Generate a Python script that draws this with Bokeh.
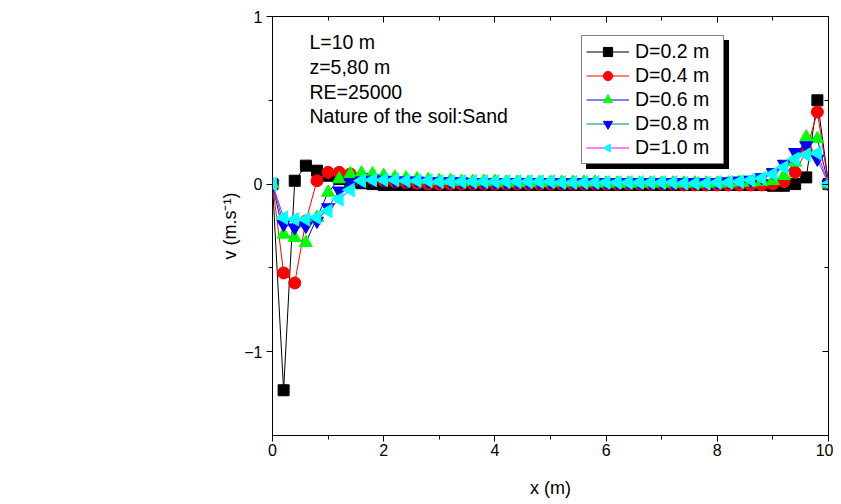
import math
from bokeh.plotting import figure
from bokeh.models import (LinearAxis, FixedTicker, Legend, LegendItem, Range1d, Label,
                          ColumnDataSource)
from bokeh.embed import file_html
from bokeh.resources import INLINE

FONT = "Liberation Sans"

# ---------------- data ----------------
x_m = [0.0, 0.2, 0.4, 0.6, 0.8, 1.0, 1.2, 1.4, 1.6, 1.8,
       2.0, 2.2, 2.4, 2.6, 2.8, 3.0, 3.2, 3.4, 3.6, 3.8,
       4.0, 4.2, 4.4, 4.6, 4.8, 5.0, 5.2, 5.4, 5.6, 5.8,
       6.0, 6.2, 6.4, 6.6, 6.8, 7.0, 7.2, 7.4, 7.6, 7.8,
       8.0, 8.2, 8.4, 8.6, 8.8, 9.0, 9.2, 9.4, 9.6, 9.8, 10.0]

v_d02 = [0.0, -1.23, 0.02, 0.11, 0.08, 0.05, 0.03, 0.015, 0.005, 0.0,
         -0.005, -0.005, -0.005, -0.005, -0.005, -0.005, -0.005, -0.005, -0.005, -0.005,
         -0.005, -0.005, -0.005, -0.005, -0.005, -0.005, -0.005, -0.005, -0.005, -0.005,
         -0.005, -0.005, -0.005, -0.005, -0.005, -0.005, -0.005, -0.005, -0.005, -0.005,
         -0.005, -0.005, -0.005, -0.005, -0.005, -0.01, -0.01, 0.0, 0.04, 0.5, 0.0]

v_d04 = [0.0, -0.53, -0.59, -0.22, 0.02, 0.07, 0.07, 0.06, 0.04, 0.03,
         0.02, 0.015, 0.01, 0.005, 0.0, 0.0, 0.0, 0.0, 0.0, 0.0,
         0.0, 0.0, 0.0, 0.0, 0.0, 0.0, 0.0, 0.0, 0.0, 0.0,
         0.0, 0.0, 0.0, 0.0, 0.0, 0.0, 0.0, -0.005, -0.005, -0.005,
         -0.005, -0.005, -0.005, -0.005, -0.005, 0.0, 0.015, 0.07, 0.2, 0.43, 0.0]

v_d06 = [0.0, -0.30, -0.32, -0.35, -0.2, -0.05, 0.03, 0.06, 0.065, 0.06,
         0.05, 0.04, 0.035, 0.03, 0.025, 0.02, 0.02, 0.015, 0.015, 0.015,
         0.015, 0.01, 0.01, 0.01, 0.01, 0.01, 0.01, 0.01, 0.01, 0.01,
         0.005, 0.005, 0.005, 0.005, 0.005, 0.005, 0.005, 0.005, 0.005, 0.005,
         0.005, 0.005, 0.01, 0.01, 0.015, 0.02, 0.05, 0.13, 0.28, 0.27, 0.0]

v_d08 = [0.0, -0.24, -0.26, -0.25, -0.22, -0.14, -0.04, 0.01, 0.02, 0.025,
         0.025, 0.02, 0.02, 0.02, 0.015, 0.015, 0.015, 0.015, 0.01, 0.01,
         0.01, 0.01, 0.01, 0.01, 0.01, 0.01, 0.01, 0.01, 0.01, 0.01,
         0.01, 0.01, 0.01, 0.01, 0.01, 0.01, 0.01, 0.01, 0.01, 0.01,
         0.01, 0.015, 0.02, 0.025, 0.04, 0.07, 0.12, 0.19, 0.23, 0.15, 0.0]

v_d10 = [0.0, -0.2, -0.21, -0.21, -0.2, -0.16, -0.09, -0.035, 0.02, 0.025,
         0.025, 0.025, 0.02, 0.02, 0.02, 0.015, 0.015, 0.015, 0.015, 0.015,
         0.015, 0.015, 0.015, 0.015, 0.015, 0.015, 0.01, 0.01, 0.01, 0.01,
         0.01, 0.01, 0.01, 0.01, 0.01, 0.01, 0.01, 0.005, 0.005, 0.005,
         0.01, 0.01, 0.015, 0.025, 0.035, 0.06, 0.10, 0.15, 0.175, 0.185, 0.0]

labels = ["D=0.2 m", "D=0.4 m", "D=0.6 m", "D=0.8 m", "D=1.0 m"]
values = [v_d02, v_d04, v_d06, v_d08, v_d10]
line_colors = ["black", "#FF0000", "#0000FF", "#008080", "#FF00FF"]
marker_colors = ["black", "#FF0000", "#00FF00", "#0000FF", "#00FFFF"]
markers = ["square", "circle", "triangle", "inverted_triangle", "triangle_left"]
marker_sizes = [11, 12, 13, 13, 13]

x_ticks = [0, 2, 4, 6, 8, 10]
x_minor = [1, 3, 5, 7, 9]
y_ticks = [-1, 0, 1]
y_minor = [-0.5, 0.5]

notes = ["L=10 m", "z=5,80 m", "RE=25000", "Nature of the soil:Sand"]

# ---------------- figure ----------------
p = figure(width=833, height=500, x_range=Range1d(0, 10), y_range=Range1d(-1.5, 1),
           output_backend="svg", toolbar_location=None,
           min_border_left=272, min_border_right=5, min_border_top=16, min_border_bottom=63,
           x_axis_label="x (m)", y_axis_label="v (m.s\u207b\u00b9)")
p.xgrid.visible = False
p.ygrid.visible = False
p.outline_line_color = "black"
p.outline_line_width = 1
p.background_fill_color = "white"
p.border_fill_color = "white"

xt = FixedTicker(ticks=x_ticks, minor_ticks=x_minor)
yt = FixedTicker(ticks=y_ticks, minor_ticks=y_minor)

xa = p.xaxis[0]
xa.ticker = xt
ya = p.yaxis[0]
ya.ticker = yt
for ax in (xa, ya):
    ax.major_tick_out = 6
    ax.major_tick_in = 0
    ax.minor_tick_out = 4
    ax.minor_tick_in = 0
    ax.axis_line_color = "black"
    ax.major_tick_line_color = "black"
    ax.minor_tick_line_color = "black"
    ax.major_label_text_font = FONT
    ax.major_label_text_font_size = "16px"
    ax.major_label_text_color = "black"
    ax.axis_label_text_font = FONT
    ax.axis_label_text_font_size = "18px"
    ax.axis_label_text_font_style = "normal"
    ax.axis_label_text_color = "black"
xa.major_label_standoff = 2
ya.major_label_standoff = 4
xa.axis_label_standoff = 19
ya.axis_label_standoff = 1

top = LinearAxis(ticker=xt, major_tick_in=6, major_tick_out=0, minor_tick_in=4, minor_tick_out=0,
                 major_label_overrides={t: "" for t in x_ticks}, major_label_standoff=0,
                 major_label_text_font_size="1px")
right = LinearAxis(ticker=yt, major_tick_in=6, major_tick_out=0, minor_tick_in=4, minor_tick_out=0,
                   major_label_overrides={t: "" for t in y_ticks}, major_label_standoff=0,
                   major_label_text_font_size="1px")
p.add_layout(top, "above")
p.add_layout(right, "right")

# ---------------- series ----------------
items = []
for lab, vals, lc, mc, mk, sz in zip(labels, values, line_colors, marker_colors,
                                     markers, marker_sizes):
    src = ColumnDataSource(dict(x=x_m, y=vals))
    r_line = p.line("x", "y", source=src, line_color=lc, line_width=1)
    if mk == "triangle_left":
        r_mark = p.ngon("x", "y", source=src, radius=sz * 0.6, radius_units="screen", n=3,
                        angle=math.pi / 2, fill_color=mc, line_color=mc)
    else:
        r_mark = p.scatter("x", "y", source=src, marker=mk, size=sz,
                           fill_color=mc, line_color=mc)
    items.append(LegendItem(label=lab, renderers=[r_line, r_mark]))

# ---------------- annotations ----------------
note_y = [0.846, 0.698, 0.55, 0.405]
for t, yy in zip(notes, note_y):
    p.add_layout(Label(x=0.665, y=yy, text=t, text_font=FONT, text_font_size="19.5px",
                       text_baseline="middle", text_align="left", text_color="black"))

leg_kw = dict(padding=4, spacing=1, label_height=23, glyph_height=23, glyph_width=43,
              label_standoff=6, label_width=84, margin=0,
              label_text_font=FONT, label_text_font_size="19.5px")

# legend drop shadow: a blank black legend of identical size, offset by 5 px
dummy = p.line(x=[], y=[], line_color="black", line_alpha=0)
shadow = Legend(items=[LegendItem(label=" ", renderers=[dummy]) for _ in labels],
                location=(314, 266), border_line_color="black",
                background_fill_color="black", background_fill_alpha=1,
                label_text_color="black", **leg_kw)
p.add_layout(shadow)

legend = Legend(items=items, location=(309, 271), border_line_color="black",
                border_line_width=1, background_fill_color="white", background_fill_alpha=1,
                label_text_color="black", **leg_kw)
p.add_layout(legend)

open("out.html", "w").write(file_html(p, INLINE))
